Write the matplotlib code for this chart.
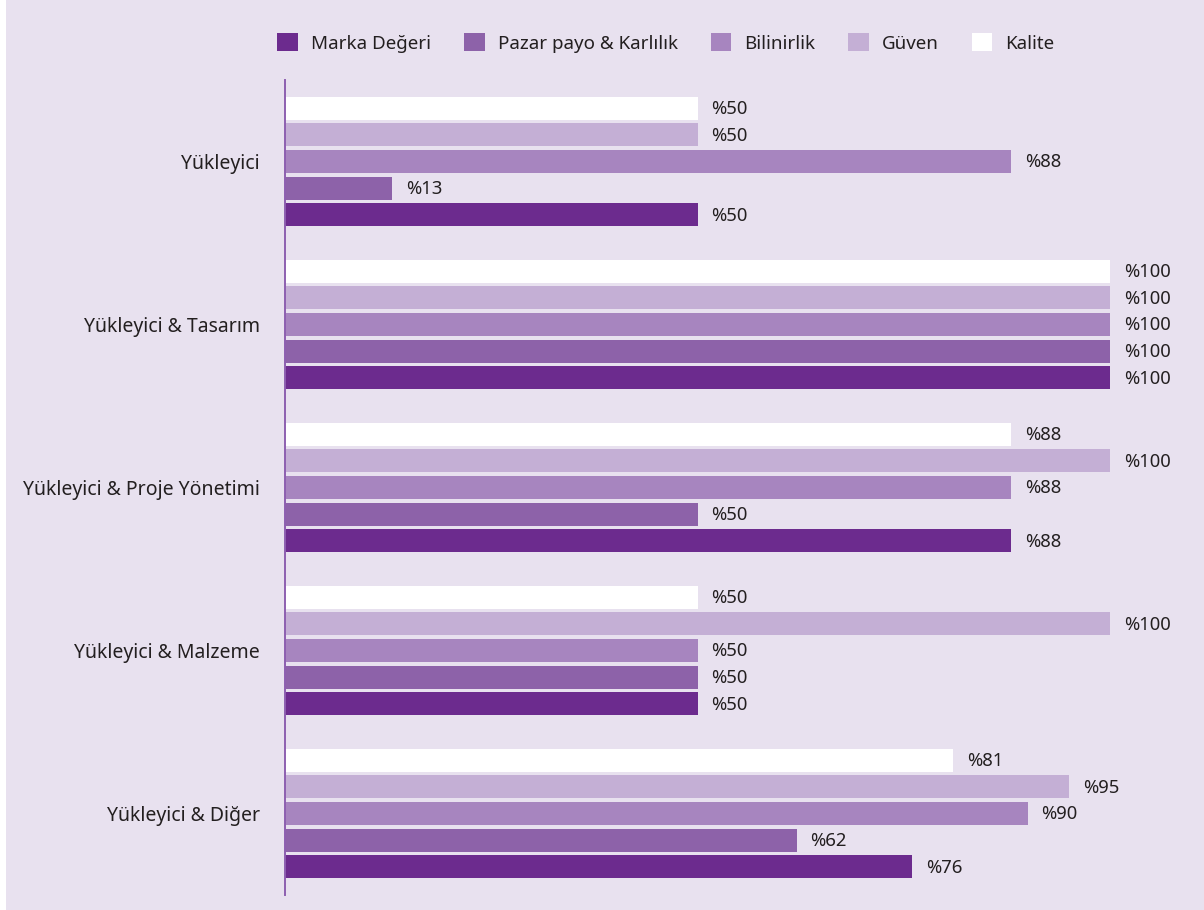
import matplotlib
matplotlib.use("Agg")
import matplotlib.pyplot as plt
from matplotlib.patches import Rectangle
import numpy as np

plt.rcParams['font.family'] = ['Noto Sans', 'DejaVu Sans']

categories = ["Yükleyici", "Yükleyici & Tasarım", "Yükleyici & Proje Yönetimi",
              "Yükleyici & Malzeme", "Yükleyici & Diğer"]
series_names = ["Marka Değeri", "Pazar payo & Karlılık", "Bilinirlik", "Güven", "Kalite"]
marka = [50, 100, 88, 50, 76]
pazar = [13, 100, 50, 50, 62]
bilinirlik = [88, 100, 88, 50, 90]
guven = [50, 100, 100, 100, 95]
kalite = [50, 100, 88, 50, 81]
series_values = [marka, pazar, bilinirlik, guven, kalite]
colors = ["#6c2b8e", "#8d62a9", "#a785bf", "#c4afd5", "#ffffff"]
bg = "#e8e1ef"
txt = "#231f20"

fig = plt.figure(figsize=(12.04, 9.10), dpi=100, facecolor=bg)
fig.patches.append(Rectangle((0, 0), 6/1204, 1, transform=fig.transFigure,
                             facecolor="white", edgecolor="none", zorder=-1))

left = 285/1204
ax = fig.add_axes([left, 1-895/910, 1-left, (895-80)/910])
ax.set_facecolor(bg)

pitch = 0.163
height = 0.141
offsets = [2*pitch, pitch, 0, -pitch, -2*pitch]
ypos = np.arange(len(categories))
px = 100/825.0  # data units per pixel
handles = []
for vals, name, col, off in zip(series_values, series_names, colors, offsets):
    b = ax.barh(ypos + off, vals, height=height, color=col, label=name, edgecolor="none")
    handles.append(b)
    for y, v in zip(ypos + off, vals):
        ax.text(v + 14*px, y + 0.006, f"%{v}", va="center", ha="left", fontsize=13.3, color=txt)

ax.set_ylim(len(categories)-0.5, -0.5)
ax.set_xlim(0, (1204-285)*px)
ax.set_yticks(ypos)
ax.set_yticklabels(categories, fontsize=14, color=txt)
ax.tick_params(axis='y', length=0, pad=18)
ax.set_xticks([])
for s in ["top", "right", "bottom"]:
    ax.spines[s].set_visible(False)
ax.spines["left"].set_color("#8d5fb0")
ax.spines["left"].set_linewidth(1.4)

leg = fig.legend(handles=handles, labels=series_names, loc="center",
                 bbox_to_anchor=(666/1204, 1-43/910), ncol=5, frameon=False,
                 fontsize=13.5, handlelength=1.1, handleheight=1.1,
                 columnspacing=1.75, handletextpad=0.7)
for t in leg.get_texts():
    t.set_color(txt)

fig.savefig("out.png", dpi=100, facecolor=bg)
